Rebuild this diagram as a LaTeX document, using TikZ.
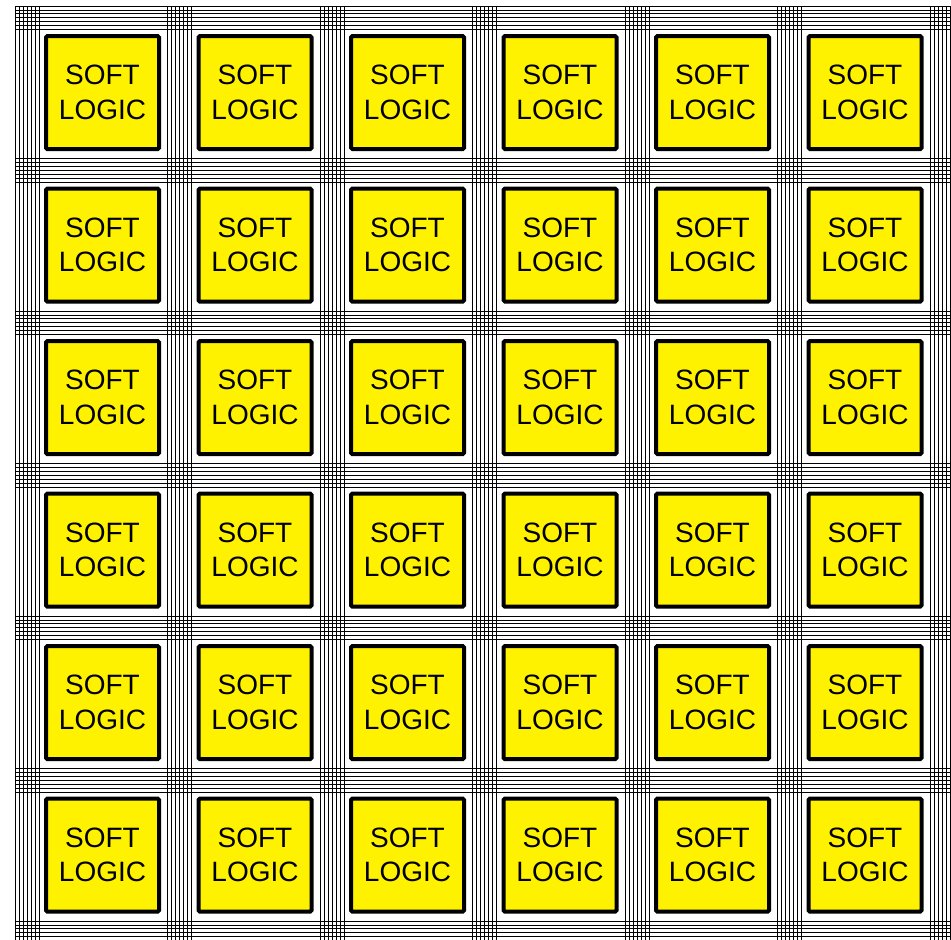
\documentclass[tikz,border=0pt]{standalone}
\usepackage{fontspec}
\setmainfont{Liberation Sans}
\begin{document}
\begin{tikzpicture}[x=0.75pt,y=-0.75pt,
  gridline/.style={black,line width=0.5pt},
  logicbox/.style={draw=black,fill=yellow,line width=3pt,rounded corners=1pt,
    minimum width=113*0.75pt,minimum height=113*0.75pt,align=center,
    inner sep=0pt,font=\fontsize{21pt}{26pt}\selectfont}]
\useasboundingbox[fill=white] (0,0) rectangle (951,940);
\begin{scope}
\clip (0,0) rectangle (951,940);
\foreach \i in {0,...,6}{
  \foreach \k in {0,...,6}{
    \draw[gridline] ({15+152.5*\i+4*\k},6) -- ({15+152.5*\i+4*\k},945);
    \draw[gridline] (15,{6+152.5*\i+3.9*\k}) -- (955,{6+152.5*\i+3.9*\k});
  }
}
\end{scope}
\foreach \i in {0,...,5}{
  \foreach \j in {0,...,5}{
    \node[logicbox] (b-\i-\j) at ({102.5+152.5*\i},{92.5+152.5*\j}) {SOFT\\LOGIC};
  }
}
\end{tikzpicture}
\end{document}
